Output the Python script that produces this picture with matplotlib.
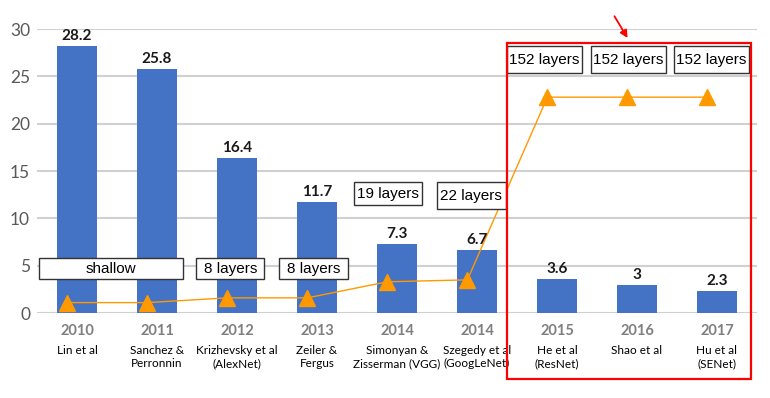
import numpy as np
import matplotlib.pyplot as plt
from matplotlib.patches import Rectangle

# data
years = ["2010", "2011", "2012", "2013", "2014", "2014", "2015", "2016", "2017"]
authors = ["Lin et al", "Sanchez &\nPerronnin", "Krizhevsky et al\n(AlexNet)",
           "Zeiler &\nFergus", "Simonyan &\nZisserman (VGG)", "Szegedy et al\n(GoogLeNet)",
           "He et al\n(ResNet)", "Shao et al", "Hu et al\n(SENet)"]
top5_error = [28.2, 25.8, 16.4, 11.7, 7.3, 6.7, 3.6, 3, 2.3]
depth_line = [1.1, 1.1, 1.6, 1.6, 3.3, 3.5, 22.8, 22.8, 22.8]
depth_labels = ["shallow", "8 layers", "8 layers", "19 layers", "22 layers",
                "152 layers", "152 layers", "152 layers"]

BLUE = "#4472C4"
ORANGE = "#FF9900"
GRAY = "#7F7F7F"

fig = plt.figure(figsize=(7.7, 3.98), dpi=100)
ax = fig.add_axes([37 / 770, 85 / 398, 720 / 770, 284 / 398])

x = np.arange(len(years))
ax.bar(x, top5_error, width=0.5, color=BLUE, zorder=2)
for xi, v in zip(x, top5_error):
    ax.text(xi, v + 0.3, "%g" % v, ha="center", va="bottom", fontsize=11,
            fontweight="bold", color="#1a1a1a", family="Lato", zorder=5)

ax.plot(x - 0.12, depth_line, color=ORANGE, lw=1, marker="^", markersize=11,
        zorder=4, clip_on=False)

ax.set_xlim(-0.5, 8.5)
ax.set_ylim(0, 30)
ax.set_yticks([0, 5, 10, 15, 20, 25, 30])
ax.yaxis.grid(True, color="#D0D0D0", lw=1.5, zorder=0)
ax.set_axisbelow(True)
for s in ax.spines.values():
    s.set_visible(False)
ax.tick_params(axis="y", length=0, labelsize=12.5, labelcolor="#595959", pad=5)
ax.tick_params(axis="x", length=0, pad=8)
ax.set_xticks(x)
ax.set_xticklabels(years, fontsize=10.5, fontweight="bold", color=GRAY, family="Lato")
for lbl in ax.get_yticklabels():
    lbl.set_family("Lato")

for xi, name in zip(x, authors):
    ax.annotate(name, xy=(xi, 0), xycoords=("data", "axes fraction"),
                xytext=(0, -23), textcoords="offset points", ha="center",
                va="top", fontsize=8.5, family="Lato", linespacing=1.25,
                annotation_clip=False)

# depth label boxes: (x0, x1, y0, y1) in data units
boxes = [(-0.475, 1.325, 3.6, 5.8), (1.49, 2.34, 3.6, 5.8), (2.525, 3.39, 3.6, 5.8),
         (3.46, 4.31, 11.4, 13.8), (4.5, 5.36, 11.0, 13.8),
         (5.375, 6.31, 25.35, 28.2), (6.425, 7.36, 25.35, 28.2), (7.46, 8.4, 25.35, 28.2)]
for (x0, x1, y0, y1), t in zip(boxes, depth_labels):
    ax.add_patch(Rectangle((x0, y0), x1 - x0, y1 - y0, facecolor="white",
                           edgecolor="#333333", lw=1, zorder=6, clip_on=False))
    ax.text((x0 + x1) / 2, (y0 + y1) / 2, t, ha="center", va="center",
            fontsize=11, family="Liberation Sans", zorder=7)

# red highlight
ax.add_patch(Rectangle((5.375, -6.97), 3.05, 35.5, facecolor="none",
                       edgecolor="#FF0000", lw=1.6, zorder=8, clip_on=False))
ax.annotate("", xy=(6.9, 28.8), xytext=(6.7, 31.6),
            arrowprops=dict(arrowstyle="-|>", color="#FF0000", lw=1.3,
                            mutation_scale=11), annotation_clip=False)

fig.savefig("out.png", dpi=100, facecolor="white")
